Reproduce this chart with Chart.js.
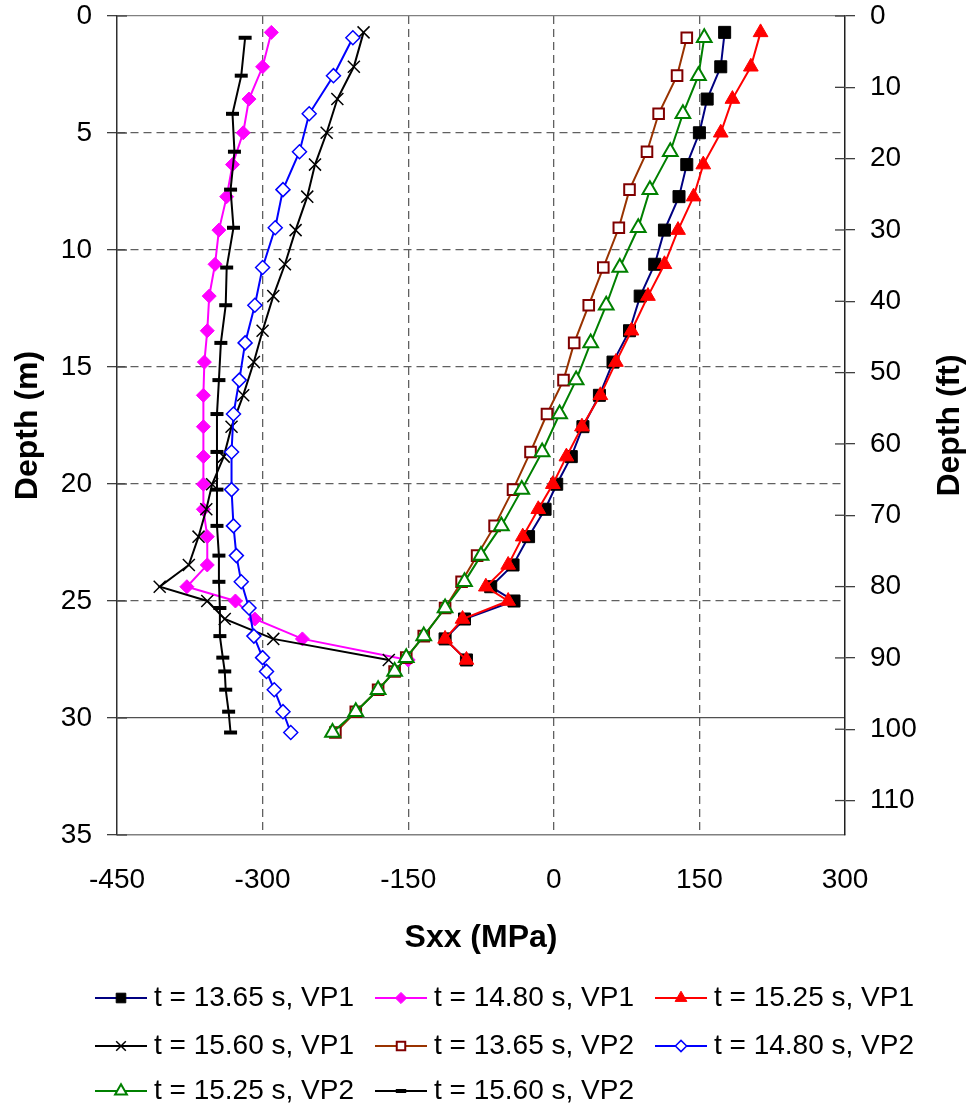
<!DOCTYPE html>
<html>
<head>
<meta charset="utf-8">
<script src="https://cdn.jsdelivr.net/npm/chart.js"></script>
<style>
  html, body { margin: 0; padding: 0; background: #ffffff; }
  #wrap { width: 969px; height: 1109px; }
</style>
</head>
<body>
<div id="wrap"><canvas id="sxxChart" width="969" height="1109"></canvas></div>
<script>
// depths (m) of the output nodes
const depthVP1 = [0.70, 2.17, 3.55, 4.99, 6.35, 7.72, 9.15, 10.61, 11.97, 13.45, 14.79, 16.21,
                  17.55, 18.83, 20.01, 21.08, 22.25, 23.46, 24.39, 25.00, 25.77, 26.62, 27.52];
const depthVP2 = [0.93, 2.55, 4.18, 5.80, 7.42, 9.05, 10.75, 12.36, 13.97, 15.56, 17.01, 18.63,
                  20.24, 21.79, 23.06, 24.18, 25.30, 26.50, 27.42, 28.01, 28.79, 29.73, 30.62];

// Sxx (MPa)
const sxx1365VP1 = [176, 172, 158, 150, 137, 129, 114, 104, 89, 78, 61, 47, 30, 18, 3, -9, -26, -42, -65, -41, -92, -112, -90];
const sxx1480VP1 = [-291, -300, -314, -320, -331, -337, -345, -349, -355, -357, -360, -361, -361, -361, -361, -361, -357, -357, -378, -328, -308, -259, -150];
const sxx1525VP1 = [213, 203, 184, 172, 154, 144, 128, 114, 97, 80, 64, 48, 29, 13, -1, -16, -32, -47, -70, -47, -94, -112, -90];
const sxx1560VP1 = [-196, -206, -223, -234, -246, -254, -266, -277, -289, -300, -309, -320, -332, -340, -352, -358, -366, -376, -406, -357, -339, -289, -170];
const sxx1365VP2 = [137, 127, 108, 96, 78, 67, 51, 36, 21, 10, -7, -24, -42, -61, -79, -95, -112, -134, -152, -164, -181, -204, -225];
const sxx1480VP2 = [-207, -227, -252, -262, -279, -287, -300, -308, -318, -324, -330, -332, -332, -330, -327, -322, -314, -309, -300, -296, -288, -279, -271];
const sxx1525VP2 = [155, 149, 133, 120, 99, 87, 68, 54, 38, 23, 6, -12, -33, -54, -75, -92, -112, -134, -152, -164, -181, -204, -228];
const sxx1560VP2 = [-318, -322, -331, -329, -333, -330, -337, -338, -343, -345, -347, -347, -347, -347, -345, -345, -344, -344, -341, -339, -338, -335, -333];

const seriesLabels = ["t = 13.65 s, VP1", "t = 14.80 s, VP1", "t = 15.25 s, VP1", "t = 15.60 s, VP1",
                      "t = 13.65 s, VP2", "t = 14.80 s, VP2", "t = 15.25 s, VP2", "t = 15.60 s, VP2"];
const seriesValues = [sxx1365VP1, sxx1480VP1, sxx1525VP1, sxx1560VP1, sxx1365VP2, sxx1480VP2, sxx1525VP2, sxx1560VP2];
const seriesDepths = [depthVP1, depthVP1, depthVP1, depthVP1, depthVP2, depthVP2, depthVP2, depthVP2];

const xTickStep = 150;
const mTickStep = 5;
const ftTickStep = 10;
const M_TO_FT = 3.28084;

// marker / line look of each series
const seriesStyle = [
    { line: "#000080", style: "rect",     r: 8.5, fill: "#000000", edge: "#000000", bw: 1 },
    { line: "#ff00ff", style: "rectRot",  r: 7,   fill: "#ff00ff", edge: "#ff00ff", bw: 1 },
    { line: "#ff0000", style: "triangle", r: 8.5, fill: "#ff0000", edge: "#ff0000", bw: 1 },
    { line: "#000000", style: "crossRot", r: 8.5, fill: "#000000", edge: "#000000", bw: 1.5 },
    { line: "#993300", style: "rect",     r: 7.5, fill: "#ffffff", edge: "#800000", bw: 2 },
    { line: "#0000ff", style: "rectRot",  r: 7,   fill: "#ffffff", edge: "#0000ff", bw: 1.5 },
    { line: "#008000", style: "triangle", r: 8.5, fill: "#ffffff", edge: "#008000", bw: 2 },
    { line: "#000000", style: "line",     r: 6.5, fill: "#000000", edge: "#000000", bw: 4 }
];

const FONT = "'Liberation Sans', Arial, sans-serif";
Chart.defaults.font.family = FONT;
Chart.defaults.color = "#000000";

// legend grid (layout only)
const legendCols = [95, 375, 655];
const legendRows = [998, 1046, 1091];

const datasets = seriesLabels.map((label, i) => {
    const st = seriesStyle[i];
    return {
        label: label,
        data: seriesValues[i].map((v, k) => ({ x: v, y: seriesDepths[i][k] })),
        showLine: true,
        borderColor: st.line,
        borderWidth: 2,
        pointStyle: st.style,
        pointRadius: st.r,
        pointBackgroundColor: st.fill,
        pointBorderColor: st.edge,
        pointBorderWidth: st.bw,
        order: seriesLabels.length - 1 - i,   // later series on top, like the original
        xAxisID: "x",
        yAxisID: "y"
    };
});

// tick marks crossing the depth axes (inner half)
const innerTicks = {
    id: "innerTicks",
    afterDraw(chart) {
        const ctx = chart.ctx;
        const area = chart.chartArea;
        ctx.save();
        ctx.strokeStyle = "#404040";
        ctx.lineWidth = 1.3;
        chart.scales.y.ticks.forEach(t => {
            const py = chart.scales.y.getPixelForValue(t.value);
            ctx.beginPath(); ctx.moveTo(area.left, py); ctx.lineTo(area.left + 10, py); ctx.stroke();
        });
        chart.scales.y2.ticks.forEach(t => {
            const py = chart.scales.y2.getPixelForValue(t.value);
            ctx.beginPath(); ctx.moveTo(area.right - 10, py); ctx.lineTo(area.right, py); ctx.stroke();
        });
        ctx.restore();
    }
};

// right title, reading bottom-to-top like the left one
const rightTitle = {
    id: "rightTitle",
    afterDraw(chart) {
        const ctx = chart.ctx;
        const area = chart.chartArea;
        ctx.save();
        ctx.translate(950, (area.top + area.bottom) / 2);
        ctx.rotate(-Math.PI / 2);
        ctx.font = "bold 32px " + FONT;
        ctx.fillStyle = "#000000";
        ctx.textAlign = "center";
        ctx.textBaseline = "middle";
        ctx.fillText("Depth (ft)", 0, 0);
        ctx.restore();
    }
};

// legend laid out as a 3-column grid with line + marker samples
const gridLegend = {
    id: "gridLegend",
    afterDraw(chart) {
        const ctx = chart.ctx;
        chart.data.datasets.forEach((ds, i) => {
            const x0 = legendCols[i % 3];
            const y0 = legendRows[Math.floor(i / 3)];
            ctx.save();
            ctx.strokeStyle = ds.borderColor;
            ctx.lineWidth = 2;
            ctx.beginPath(); ctx.moveTo(x0, y0); ctx.lineTo(x0 + 52, y0); ctx.stroke();
            ctx.fillStyle = ds.pointBackgroundColor;
            ctx.strokeStyle = ds.pointBorderColor;
            ctx.lineWidth = ds.pointBorderWidth;
            Chart.helpers.drawPoint(ctx, {
                pointStyle: ds.pointStyle,
                radius: ds.pointRadius * 0.8,
                rotation: 0,
                borderWidth: ds.pointBorderWidth
            }, x0 + 26, y0);
            ctx.fillStyle = "#000000";
            ctx.font = "28px " + FONT;
            ctx.textAlign = "left";
            ctx.textBaseline = "middle";
            ctx.fillText(ds.label, x0 + 59, y0);
            ctx.restore();
        });
    }
};

// fixed axis size, no extra label overhang at the top / bottom
const fixVertical = width => s => {
    s.width = width;
    s.paddingTop = 0;
    s.paddingBottom = 0;
};

const ctx = document.getElementById("sxxChart").getContext("2d");
new Chart(ctx, {
    type: "scatter",
    data: { datasets: datasets },
    plugins: [innerTicks, rightTitle, gridLegend],
    options: {
        responsive: false,
        animation: false,
        events: [],
        layout: { padding: { top: 16, bottom: 149, left: 0, right: 0 } },
        plugins: {
            legend: { display: false },
            tooltip: { enabled: false }
        },
        scales: {
            x: {
                type: "linear",
                position: "bottom",
                min: -450,
                max: 300,
                afterFit: s => { s.height = 125; },
                ticks: { stepSize: xTickStep, font: { size: 28 }, padding: 28, color: "#000000" },
                grid: {
                    drawTicks: false,
                    lineWidth: 1.3,
                    color: c => (c.tick && (c.tick.value === -450 || c.tick.value === 300)) ? "rgba(0,0,0,0)" : "#606060"
                },
                border: { color: "#808080", width: 1.5, dash: [8, 5] },
                title: {
                    display: true,
                    text: "Sxx (MPa)",
                    font: { size: 32, weight: "bold" },
                    padding: { top: 0, bottom: 3 }
                }
            },
            y: {
                type: "linear",
                position: "left",
                reverse: true,
                min: 0,
                max: 35,
                afterFit: fixVertical(117),
                ticks: { stepSize: mTickStep, font: { size: 28 }, padding: 15, color: "#000000" },
                grid: {
                    tickLength: 10,
                    tickColor: "#404040",
                    lineWidth: 1.3,
                    color: c => {
                        if (!c.tick) return "#606060";
                        if (c.tick.value === 35) return "rgba(0,0,0,0)";
                        if (c.tick.value === 0) return "#808080";
                        if (c.tick.value === 30) return "#505050";
                        return "#606060";
                    }
                },
                border: {
                    color: "#303030",
                    width: 1.5,
                    dash: c => (c.tick && (c.tick.value === 0 || c.tick.value === 30)) ? [] : [8, 5]
                },
                title: {
                    display: true,
                    text: "Depth (m)",
                    font: { size: 32, weight: "bold" },
                    padding: { top: 9, bottom: 0 }
                }
            },
            y2: {
                type: "linear",
                position: "right",
                reverse: true,
                min: 0,
                max: 35 * M_TO_FT,
                afterFit: fixVertical(124),
                ticks: { stepSize: ftTickStep, includeBounds: false, font: { size: 28 }, padding: 15, color: "#000000" },
                grid: { drawOnChartArea: false, tickLength: 10, tickColor: "#404040", lineWidth: 1.3 },
                border: { color: "#202020", width: 1.5 },
                title: { display: false }
            }
        }
    }
});
</script>
</body>
</html>
